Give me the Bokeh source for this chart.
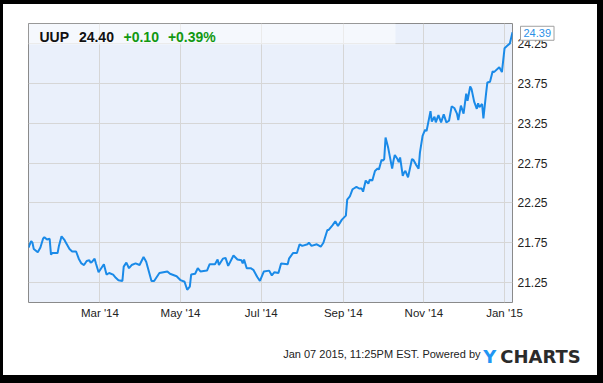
import pandas as pd
from bokeh.plotting import figure
from bokeh.models import Range1d, FixedTicker, Label, BoxAnnotation, PrintfTickFormatter
from bokeh.embed import file_html
from bokeh.resources import INLINE

# ---------------- data ----------------
dates = [
    "2014-01-06", "2014-01-08", "2014-01-09", "2014-01-10", "2014-01-13", "2014-01-15", "2014-01-17", "2014-01-18",
    "2014-01-20", "2014-01-22", "2014-01-23", "2014-01-24", "2014-01-28", "2014-01-29", "2014-01-31", "2014-02-02",
    "2014-02-03", "2014-02-06", "2014-02-08", "2014-02-11", "2014-02-13", "2014-02-15", "2014-02-17", "2014-02-19",
    "2014-02-21", "2014-02-22", "2014-02-23", "2014-02-25", "2014-02-26", "2014-02-28", "2014-03-02", "2014-03-04",
    "2014-03-06", "2014-03-08", "2014-03-11", "2014-03-13", "2014-03-15", "2014-03-18", "2014-03-19", "2014-03-21",
    "2014-03-23", "2014-03-25", "2014-03-28", "2014-03-31", "2014-04-03", "2014-04-05", "2014-04-09", "2014-04-11",
    "2014-04-15", "2014-04-21", "2014-04-23", "2014-04-28", "2014-05-01", "2014-05-04", "2014-05-06", "2014-05-08",
    "2014-05-09", "2014-05-12", "2014-05-14", "2014-05-16", "2014-05-21", "2014-05-23", "2014-05-27", "2014-05-29",
    "2014-05-30", "2014-06-02", "2014-06-04", "2014-06-06", "2014-06-10", "2014-06-13", "2014-06-16", "2014-06-17",
    "2014-06-18", "2014-06-20", "2014-06-23", "2014-06-25", "2014-06-28", "2014-06-30", "2014-07-03", "2014-07-07",
    "2014-07-09", "2014-07-11", "2014-07-14", "2014-07-16", "2014-07-21", "2014-07-22", "2014-07-25", "2014-07-28",
    "2014-07-30", "2014-08-01", "2014-08-05", "2014-08-06", "2014-08-08", "2014-08-12", "2014-08-15", "2014-08-17",
    "2014-08-20", "2014-08-21", "2014-08-24", "2014-08-26", "2014-08-28", "2014-08-31", "2014-09-03", "2014-09-04",
    "2014-09-06", "2014-09-08", "2014-09-09", "2014-09-11", "2014-09-13", "2014-09-15", "2014-09-16", "2014-09-18",
    "2014-09-20", "2014-09-21", "2014-09-23", "2014-09-25", "2014-09-27", "2014-09-28", "2014-09-30", "2014-10-01",
    "2014-10-02", "2014-10-03", "2014-10-05", "2014-10-08", "2014-10-09", "2014-10-10", "2014-10-12", "2014-10-13",
    "2014-10-14", "2014-10-16", "2014-10-17", "2014-10-18", "2014-10-20", "2014-10-23", "2014-10-24", "2014-10-26",
    "2014-10-28", "2014-10-29", "2014-10-31", "2014-11-01", "2014-11-02", "2014-11-03", "2014-11-06", "2014-11-07",
    "2014-11-09", "2014-11-10", "2014-11-12", "2014-11-14", "2014-11-16", "2014-11-18", "2014-11-20", "2014-11-22",
    "2014-11-24", "2014-11-26", "2014-11-27", "2014-11-29", "2014-12-01", "2014-12-03", "2014-12-04", "2014-12-06",
    "2014-12-07", "2014-12-09", "2014-12-11", "2014-12-12", "2014-12-13", "2014-12-15", "2014-12-16", "2014-12-18",
    "2014-12-19", "2014-12-21", "2014-12-23", "2014-12-24", "2014-12-28", "2014-12-30", "2015-01-01", "2015-01-03",
    "2015-01-05", "2015-01-07",
]
prices = [
    21.69, 21.77, 21.75, 21.67, 21.63, 21.69, 21.80, 21.82,
    21.79, 21.80, 21.60, 21.62, 21.62, 21.71, 21.83, 21.79,
    21.76, 21.67, 21.64, 21.64, 21.55, 21.49, 21.47, 21.52,
    21.53, 21.50, 21.51, 21.55, 21.49, 21.38, 21.43, 21.48,
    21.35, 21.37, 21.35, 21.31, 21.28, 21.27, 21.45, 21.50,
    21.43, 21.47, 21.49, 21.47, 21.57, 21.51, 21.27, 21.27,
    21.37, 21.39, 21.36, 21.33, 21.28, 21.26, 21.16, 21.20,
    21.35, 21.36, 21.43, 21.39, 21.40, 21.48, 21.48, 21.54,
    21.47, 21.55, 21.56, 21.46, 21.59, 21.54, 21.53, 21.49,
    21.54, 21.43, 21.43, 21.41, 21.32, 21.27, 21.39, 21.40,
    21.34, 21.38, 21.37, 21.49, 21.48, 21.55, 21.62, 21.62,
    21.73, 21.71, 21.73, 21.75, 21.71, 21.73, 21.70, 21.75,
    21.91, 21.91, 21.97, 22.02, 21.96, 22.04, 22.09, 22.29,
    22.33, 22.42, 22.43, 22.45, 22.43, 22.43, 22.39, 22.53,
    22.49, 22.54, 22.53, 22.65, 22.68, 22.67, 22.79, 22.78,
    22.80, 23.07, 22.94, 22.68, 22.78, 22.85, 22.80, 22.76,
    22.82, 22.59, 22.63, 22.65, 22.57, 22.80, 22.79, 22.73,
    22.68, 22.88, 23.09, 23.13, 23.17, 23.15, 23.40, 23.27,
    23.33, 23.26, 23.35, 23.26, 23.36, 23.26, 23.28, 23.46,
    23.44, 23.37, 23.29, 23.47, 23.37, 23.62, 23.53, 23.71,
    23.68, 23.52, 23.43, 23.50, 23.45, 23.49, 23.31, 23.62,
    23.76, 23.77, 23.90, 23.89, 23.95, 23.89, 24.19, 24.22,
    24.25, 24.39,
]
ticker_symbol = "UUP"
quote_price = "24.40"
change_abs = "+0.10"
change_pct = "+0.39%"
xtick_dates = ["2014-03-01", "2014-05-01", "2014-07-01", "2014-09-01", "2014-11-01", "2015-01-01"]
xtick_labels = ["Mar '14", "May '14", "Jul '14", "Sep '14", "Nov '14", "Jan '15"]
ytick_values = [21.25, 21.75, 22.25, 22.75, 23.25, 23.75, 24.25]
footer_stamp = "Jan 07 2015, 11:25PM EST.  Powered by"
logo_y = "Y"
logo_rest = "CHARTS"

# ---------------- figure ----------------
FONT = "Liberation Sans"
ts = pd.to_datetime(dates)

p = figure(width=594, height=371, margin=(4, 6, 8, 3),
           styles={"box-shadow": "0 0 0 8px black"},
           output_backend="svg", toolbar_location=None,
           x_axis_type="datetime", y_axis_location="right",
           x_range=Range1d(ts[0], ts[-1]), y_range=Range1d(21.0, 24.5),
           min_border_left=25, min_border_right=85, min_border_top=19, min_border_bottom=67)
p.background_fill_color = "#eaf0fb"
p.border_fill_color = "white"
p.outline_line_color = "#8a8a8a"
p.outline_line_width = 1

tick_ms = [int(pd.Timestamp(d).value // 10**6) for d in xtick_dates]
p.xaxis.ticker = FixedTicker(ticks=tick_ms)
p.xaxis.major_label_overrides = {m: lab for m, lab in zip(tick_ms, xtick_labels)}
p.yaxis.ticker = FixedTicker(ticks=ytick_values)
p.yaxis.formatter = PrintfTickFormatter(format="%.2f")

for ax in (p.xaxis, p.yaxis):
    ax.axis_line_color = None
    ax.major_tick_line_color = None
    ax.minor_tick_line_color = None
    ax.major_tick_out = 0
    ax.major_tick_in = 0
    ax.major_label_text_font = FONT
    ax.major_label_text_color = "#222222"
p.xaxis.major_label_text_font_size = "11.5px"
p.xaxis.major_label_standoff = 4
p.yaxis.major_label_text_font_size = "12px"
p.yaxis.major_label_standoff = 5

p.xgrid.ticker = FixedTicker(ticks=tick_ms)
p.ygrid.ticker = FixedTicker(ticks=ytick_values)
p.grid.grid_line_color = "#d6d6d6"
p.grid.grid_line_width = 1

p.line(ts, prices, line_color="#1a8ae8", line_width=2)

# header band and quote
p.add_layout(BoxAnnotation(right=367, right_units="screen", bottom=258, bottom_units="screen",
                           fill_color="white", fill_alpha=0.5, line_color=None))
hdr = [(11, ticker_symbol, "#111111"), (50.4, quote_price, "#111111"),
       (95, change_abs, "#129812"), (139.4, change_pct, "#129812")]
for hx, txt, col in hdr:
    p.add_layout(Label(x=hx, y=266, x_units="screen", y_units="screen", text=txt,
                       text_font=FONT, text_font_style="bold", text_font_size="14px",
                       text_color=col, text_baseline="alphabetic"))

# last value tag (side panel so that it is not clipped to the frame)
p.add_layout(Label(x=ts[-1], y=prices[-1], x_offset=8, y_offset=-1, text=f"{prices[-1]:.2f}",
                   text_font=FONT, text_font_size="11px", text_color="#2b8fe6",
                   text_baseline="middle", text_align="left",
                   background_fill_color="white", border_line_color="#a0a0a0", padding=3), "above")

# footer
p.add_layout(Label(x=254.7, y=20.348, x_units="screen", y_units="data", text=footer_stamp,
                   text_font=FONT, text_font_size="11px", text_color="#222222",
                   text_baseline="alphabetic"), "below")
p.add_layout(Label(x=471.7, y=20.323, x_units="screen", y_units="data", text=logo_rest,
                   text_font="DejaVu Sans", text_font_style="bold", text_font_size="18px",
                   text_color="#2b2b2b", text_baseline="alphabetic"), "below")
p.add_layout(Label(x=454.7, y=20.323, x_units="screen", y_units="data", text=logo_y,
                   text_font="DejaVu Sans", text_font_style="bold", text_font_size="18px",
                   text_color="#2196f3", text_baseline="alphabetic"), "below")

open("out.html", "w").write(file_html(p, INLINE))
